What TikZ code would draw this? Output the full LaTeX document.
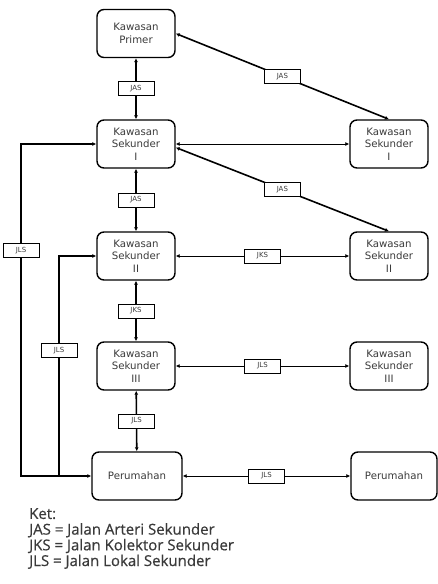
\documentclass[tikz,border=0pt]{standalone}
\usepackage{fontspec}
\setmainfont{DejaVu Sans}
\newfontfamily\ketfont[FakeBold=0.6]{Open Sans}
\usetikzlibrary{arrows.meta}
\definecolor{teks}{HTML}{3A3A3A}
\tikzset{
	kawasan/.style={draw, line width=1.4pt, rounded corners=7pt, minimum width=78pt, minimum height=48pt, align=center, text=teks, font=\fontsize{10.2}{12.5}\selectfont},
	jalan/.style={draw, fill=white, line width=1pt, minimum width=36pt, minimum height=14pt, inner sep=1pt, text=teks, font=\fontsize{7}{8}\selectfont},
	tebal/.style={line width=1.6pt, {Latex[length=4pt,width=4pt]}-{Latex[length=4pt,width=4pt]}},
	tipis/.style={line width=1pt, {Latex[length=4pt,width=4pt]}-{Latex[length=4pt,width=4pt]}}
}
\begin{document}
\begin{tikzpicture}
		[x=1pt, y=-1pt]
		\useasboundingbox (0,0) rectangle (438,584);
		\node[kawasan] (primer) at (136,33.5) {Kawasan\\Primer};
		\node[kawasan] (sek1) at (136,144) {Kawasan\\Sekunder\\I};
		\node[kawasan] (sek2) at (136,256) {Kawasan\\Sekunder\\II};
		\node[kawasan] (sek3) at (136,366) {Kawasan\\Sekunder\\III};
		\node[kawasan, minimum width=90pt] (rumah) at (137,476) {Perumahan};
		\node[kawasan] (sek1b) at (389,144) {Kawasan\\Sekunder\\I};
		\node[kawasan] (sek2b) at (389,256) {Kawasan\\Sekunder\\II};
		\node[kawasan] (sek3b) at (389,366) {Kawasan\\Sekunder\\III};
		\node[kawasan, minimum width=86pt] (rumahb) at (394,476) {Perumahan};
		\coordinate (luar1) at (21,144);
		\coordinate (luar2) at (21,476);
		\coordinate (dalam1) at (59,476);
		\coordinate (dalam2) at (59,256);
		\draw[tebal] (primer) -- node[jalan]{JAS} (sek1);
		\draw[tebal] (sek1) -- node[jalan]{JAS} (sek2);
		\draw[tebal] (sek2) -- node[jalan]{JKS} (sek3);
		\draw[tebal] (sek3) -- node[jalan]{JLS} (rumah);
		\draw[tebal] (primer.east) -- node[jalan]{JAS} (sek1b.north);
		\draw[tipis] (sek1.east) -- (sek1b.west);
		\draw[tebal] (sek1.-5) -- node[jalan]{JAS} (sek2b.north);
		\draw[tipis] (sek2.east) -- node[jalan]{JKS} (sek2b.west);
		\draw[tipis] (sek3.east) -- node[jalan]{JLS} (sek3b.west);
		\draw[tipis] (rumah.east) -- node[jalan]{JLS} (rumahb.west);
		\draw[tebal] (sek1.west) -- (luar1) -- node[jalan, pos=0.32]{JLS} (luar2) -- (rumah.west);
		\draw[line width=1.6pt, -{Latex[length=4pt,width=4pt]}] (dalam1) -- node[jalan, pos=0.57]{JLS} (dalam2) -- (sek2.west);
		\node[anchor=north west, align=left, inner sep=0pt, text=teks, font=\ketfont\fontsize{15}{15.7}\selectfont] (ket) at (29,508)
		{Ket:\\JAS = Jalan Arteri Sekunder\\JKS = Jalan Kolektor Sekunder\\JLS = Jalan Lokal Sekunder};
	\end{tikzpicture}
\end{document}
